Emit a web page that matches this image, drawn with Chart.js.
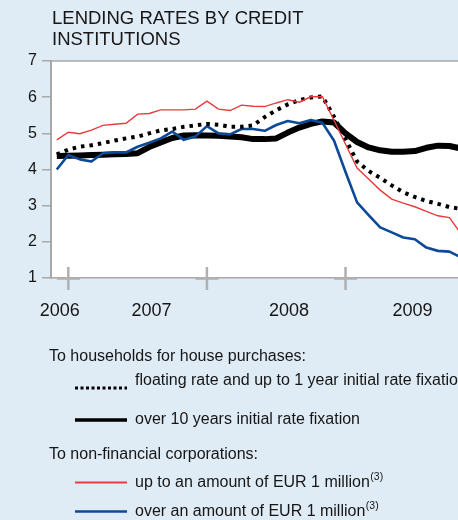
<!DOCTYPE html>
<html>
<head>
<meta charset="utf-8">
<title>Lending rates by credit institutions</title>
<script src="https://cdn.jsdelivr.net/npm/chart.js@4.4.1/dist/chart.umd.min.js"></script>
<style>
    html, body { margin: 0; padding: 0; overflow: hidden; background: #dfebf5; }
    #chartWrap { width: 480px; height: 520px; }
</style>
</head>
<body>
<div id="chartWrap"><canvas id="lendingRatesChart" width="480" height="520"></canvas></div>
<script>
const months = [
    '2006-11', '2006-12',
    '2007-01', '2007-02', '2007-03', '2007-04', '2007-05', '2007-06',
    '2007-07', '2007-08', '2007-09', '2007-10', '2007-11', '2007-12',
    '2008-01', '2008-02', '2008-03', '2008-04', '2008-05', '2008-06',
    '2008-07', '2008-08', '2008-09', '2008-10', '2008-11', '2008-12',
    '2009-01', '2009-02', '2009-03', '2009-04', '2009-05', '2009-06',
    '2009-07', '2009-08', '2009-09', '2009-10'
];

// Households, floating rate and up to 1 year initial rate fixation
const householdsFloating = [
    4.42, 4.55, 4.63, 4.67, 4.73, 4.80, 4.86, 4.91, 5.00, 5.08, 5.12, 5.18,
    5.22, 5.26, 5.24, 5.18, 5.18, 5.22, 5.45, 5.64, 5.80, 5.92, 5.99, 6.02,
    5.46, 4.84, 4.22, 3.96, 3.77, 3.56, 3.37, 3.24, 3.13, 3.05, 2.96, 2.91
];

// Households, over 10 years initial rate fixation
const householdsOver10y = [
    4.37, 4.38, 4.39, 4.40, 4.41, 4.42, 4.43, 4.45, 4.62, 4.75, 4.87, 4.94,
    4.95, 4.94, 4.93, 4.91, 4.89, 4.84, 4.84, 4.86, 5.02, 5.16, 5.26, 5.33,
    5.30, 5.00, 4.76, 4.61, 4.53, 4.49, 4.49, 4.51, 4.60, 4.66, 4.65, 4.58
];

// Non-financial corporations, up to EUR 1 million
const corporatesUpTo1m = [
    4.82, 5.03, 4.99, 5.09, 5.22, 5.25, 5.28, 5.53, 5.55, 5.65, 5.65, 5.65,
    5.67, 5.89, 5.67, 5.63, 5.78, 5.75, 5.74, 5.84, 5.93, 5.86, 6.01, 6.01,
    5.36, 4.70, 4.04, 3.74, 3.43, 3.18, 3.07, 2.97, 2.84, 2.72, 2.67, 2.22
];

// Non-financial corporations, over EUR 1 million
const corporatesOver1m = [
    4.00, 4.40, 4.28, 4.22, 4.45, 4.47, 4.47, 4.63, 4.74, 4.86, 5.05, 4.82,
    4.91, 5.20, 5.00, 4.97, 5.12, 5.12, 5.07, 5.23, 5.34, 5.28, 5.37, 5.29,
    4.80, 3.93, 3.09, 2.74, 2.40, 2.26, 2.12, 2.07, 1.84, 1.75, 1.73, 1.57
];

// X axis: year labels (month-index positions) and the cross marks between years
const yearLabels = ['2006', '2007', '2008', '2009'];
const yearLabelAt = [0.25, 8.2, 20.1, 30.8];
const yearMarksAt = [1, 13, 25, 37];

const chartTitle = ['LENDING RATES BY CREDIT', 'INSTITUTIONS'];
const legendGroups = [
    { heading: 'To households for house purchases:', items: [0, 1] },
    { heading: 'To non-financial corporations:', items: [2, 3] }
];

(function() {
    'use strict';

    const FONT = "'Liberation Sans', Arial, sans-serif";
    const TEXT = '#161616';
    const AXIS_GREY = '#a8a8a8';
    const MARK_GREY = '#b0b0b0';

    /**
     * Turn a value list into {x, y} points on the month index
     */
    function toPoints(values) {
        return values.map((v, i) => ({ x: i, y: v }));
    }

    /**
     * White plot background, top frame line and the year cross marks
     */
    const plotFrame = {
        id: 'plotFrame',
        beforeDraw(chart) {
            const { ctx, chartArea: a } = chart;
            ctx.save();
            ctx.fillStyle = '#ffffff';
            ctx.fillRect(a.left, a.top, a.right - a.left, a.bottom - a.top);
            ctx.restore();
        },
        afterDraw(chart) {
            const { ctx, chartArea: a, scales } = chart;
            ctx.save();
            ctx.strokeStyle = AXIS_GREY;
            ctx.lineWidth = 1.5;
            ctx.beginPath();
            ctx.moveTo(a.left, a.top);
            ctx.lineTo(a.right, a.top);
            ctx.stroke();

            ctx.strokeStyle = MARK_GREY;
            ctx.lineWidth = 2.5;
            yearMarksAt.forEach(m => {
                const x = scales.x.getPixelForValue(m);
                ctx.beginPath();
                ctx.moveTo(x, a.bottom - 11);
                ctx.lineTo(x, a.bottom + 12);
                ctx.moveTo(x - 11.5, a.bottom + 0.5);
                ctx.lineTo(x + 11.5, a.bottom + 0.5);
                ctx.stroke();
            });
            ctx.restore();
        }
    };

    /**
     * Title above the plot and the grouped legend below it
     */
    const panelText = {
        id: 'panelText',
        afterDraw(chart) {
            const ctx = chart.ctx;
            const datasets = chart.data.datasets;
            ctx.save();
            ctx.fillStyle = TEXT;
            ctx.textBaseline = 'alphabetic';

            ctx.font = '18.5px ' + FONT;
            ctx.fillText(chartTitle[0], 52, 23.5);
            ctx.fillText(chartTitle[1], 52, 44.5);

            const headingY = [361, 459];
            const rowY = [[385, 388], [424, 420], [486.5, 482.5], [515.5, 511.5]];
            const sampleWidth = [3, 3.5, 2, 2.5];

            legendGroups.forEach((group, g) => {
                ctx.font = '16px ' + FONT;
                ctx.fillStyle = TEXT;
                ctx.fillText(group.heading, 49, headingY[g]);

                group.items.forEach(idx => {
                    const ds = datasets[idx];
                    const [textY, lineY] = rowY[idx];
                    ctx.save();
                    ctx.strokeStyle = ds.borderColor;
                    ctx.lineWidth = sampleWidth[idx];
                    ctx.setLineDash(ds.borderDash ? [3, 2.5] : []);
                    ctx.beginPath();
                    ctx.moveTo(75, lineY);
                    ctx.lineTo(127, lineY);
                    ctx.stroke();
                    ctx.restore();

                    ctx.font = '16px ' + FONT;
                    ctx.fillText(ds.label, 135, textY);
                    if (ds.note) {
                        const w = ctx.measureText(ds.label).width;
                        ctx.font = '10.5px ' + FONT;
                        ctx.fillText(ds.note, 135 + w + 0.5, textY - 7);
                    }
                });
            });
            ctx.restore();
        }
    };

    function initLendingRatesChart() {
        const canvas = document.getElementById('lendingRatesChart');
        if (!canvas) return;

        Chart.defaults.font.family = FONT;

        new Chart(canvas.getContext('2d'), {
            type: 'line',
            data: {
                labels: months,
                datasets: [{
                    label: 'floating rate and up to 1 year initial rate fixation',
                    data: toPoints(householdsFloating),
                    borderColor: '#000000',
                    borderWidth: 4,
                    borderDash: [3.5, 5],
                    borderCapStyle: 'butt',
                    order: 1
                }, {
                    label: 'over 10 years initial rate fixation',
                    data: toPoints(householdsOver10y),
                    borderColor: '#000000',
                    borderWidth: 6,
                    borderJoinStyle: 'round',
                    order: 3
                }, {
                    label: 'up to an amount of EUR 1 million',
                    note: '(3)',
                    data: toPoints(corporatesUpTo1m),
                    borderColor: '#ec3a3c',
                    borderWidth: 1.4,
                    order: 0
                }, {
                    label: 'over an amount of EUR 1 million',
                    note: '(3)',
                    data: toPoints(corporatesOver1m),
                    borderColor: '#0c4a97',
                    borderWidth: 2.6,
                    borderJoinStyle: 'round',
                    order: 2
                }]
            },
            options: {
                responsive: false,
                animation: false,
                layout: {
                    padding: { top: 61, left: 0, right: 13.2, bottom: 202 }
                },
                elements: {
                    point: { radius: 0, hoverRadius: 0 },
                    line: { tension: 0, fill: false }
                },
                plugins: {
                    legend: { display: false },
                    title: { display: false },
                    tooltip: { enabled: false }
                },
                scales: {
                    x: {
                        type: 'linear',
                        min: -0.5,
                        max: 35.5,
                        afterBuildTicks: scale => {
                            scale.ticks = yearLabelAt.map(v => ({ value: v }));
                        },
                        afterFit: scale => { scale.height = 40; },
                        grid: { display: false },
                        border: { color: AXIS_GREY, width: 1.5 },
                        ticks: {
                            callback: (value, index) => yearLabels[index],
                            color: TEXT,
                            font: { size: 18 },
                            padding: 14,
                            maxRotation: 0,
                            autoSkip: false
                        }
                    },
                    y: {
                        min: 1,
                        max: 7,
                        afterFit: scale => { scale.width = 51; },
                        grid: {
                            drawOnChartArea: false,
                            tickLength: 9,
                            color: AXIS_GREY,
                            lineWidth: 1.5
                        },
                        border: { color: AXIS_GREY, width: 2 },
                        ticks: {
                            stepSize: 1,
                            color: TEXT,
                            font: { size: 16 },
                            padding: 5
                        }
                    }
                }
            },
            plugins: [plotFrame, panelText]
        });
    }

    document.addEventListener('DOMContentLoaded', initLendingRatesChart);
})();
</script>
</body>
</html>
